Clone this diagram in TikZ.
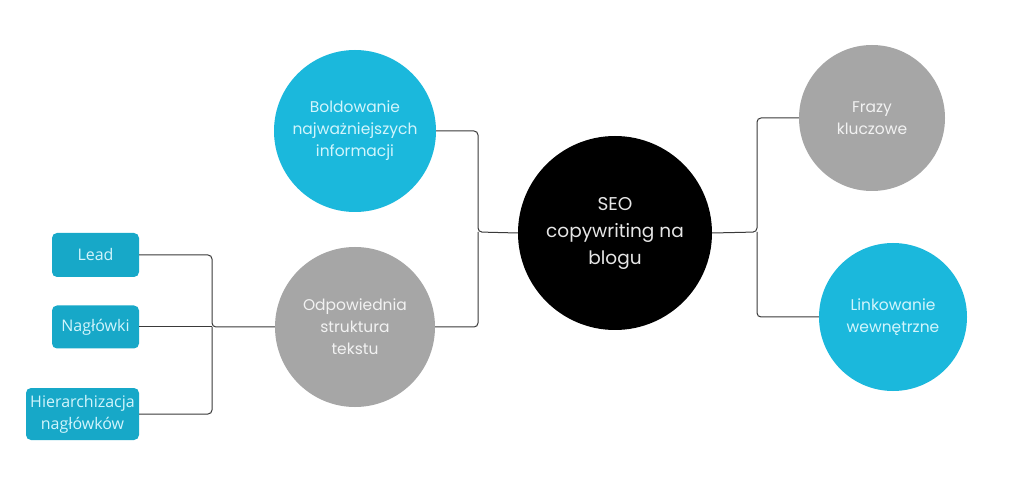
\documentclass[tikz,border=0pt]{standalone}
\usepackage{fontspec}
\setmainfont{Poppins}
\newfontfamily\boxfont{Open Sans}
\definecolor{cblue}{HTML}{1BB8DC}
\definecolor{rblue}{HTML}{17A8C8}
\definecolor{cgray}{HTML}{A6A6A6}
\definecolor{btext}{HTML}{D2F5FC}
\definecolor{gtext}{HTML}{F2F2F2}
\definecolor{ctext}{HTML}{E6E6E6}
\definecolor{lcol}{HTML}{3A3A3A}
\tikzset{
  bluecirc/.style={circle, fill=cblue, text=btext, align=center, inner sep=0pt, font=\fontsize{15.5}{22}\selectfont},
  graycirc/.style={circle, fill=cgray, text=gtext, align=center, inner sep=0pt, font=\fontsize{15.5}{22}\selectfont},
  seocirc/.style={circle, fill=black, text=ctext, align=center, inner sep=0pt, minimum size=194pt, font=\fontsize{18.5}{27}\selectfont},
  leafbox/.style={rectangle, rounded corners=5pt, fill=rblue, text=btext, align=center, inner sep=0pt, font=\boxfont\fontsize{16}{22}\selectfont},
  conn/.style={draw=lcol, line width=1pt, rounded corners=4pt}
}
\begin{document}
\begin{tikzpicture}[x=1pt,y=-1pt]
\useasboundingbox[fill=white] (0,0) rectangle (1023,478);
\node[seocirc] (seo) at (615,233) {SEO\\copywriting na\\blogu};
\node[bluecirc, minimum size=162pt] (bold) at (355,131) {Boldowanie\\najważniejszych\\informacji};
\node[graycirc, minimum size=160pt] (odp) at (355,327) {Odpowiednia\\struktura\\tekstu};
\node[graycirc, minimum size=146pt] (fraz) at (872,118) {Frazy\\kluczowe};
\node[bluecirc, minimum size=148pt] (link) at (893,317) {Linkowanie\\wewnętrzne};
\node[leafbox, minimum width=87pt, minimum height=44pt] (lead) at (95.5,255) {Lead};
\node[leafbox, minimum width=87pt, minimum height=43pt] (nag) at (95.5,327) {Nagłówki};
\node[leafbox, minimum width=113pt, minimum height=52pt] (hier) at (82.5,414) {Hierarchizacja\\nagłówków};
\coordinate (jl) at (478,232);
\coordinate (jr) at (757,232);
\coordinate (jb) at (212,327);
\draw[conn] (bold.east) -| (jl) -- (seo.west);
\draw[conn] (odp.east) -| (jl);
\draw[conn] (seo.east) -- (jr) |- (fraz.west);
\draw[conn] (jr) |- (link.west);
\draw[conn] (lead.east) -| (jb) -- (odp.west);
\draw[conn] (nag.east) -- (jb);
\draw[conn] (hier.east) -| (jb);
\end{tikzpicture}
\end{document}
